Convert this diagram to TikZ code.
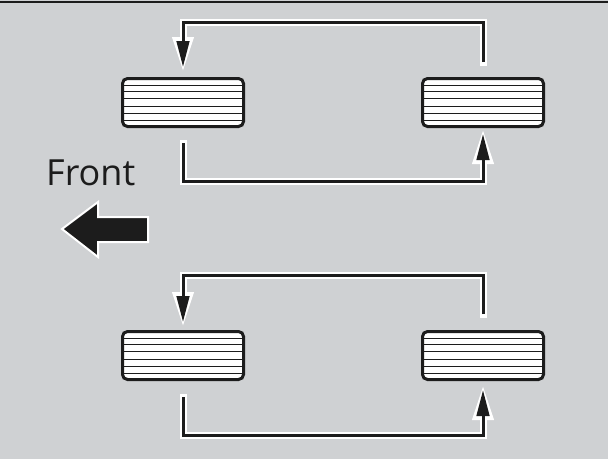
\documentclass[tikz,border=0pt]{standalone}
\usepackage{xcolor}
\usepackage{fontspec}
\setmainfont{Open Sans}
\usepackage{pgf,tikz}
\usetikzlibrary{arrows.meta,positioning,calc}
\definecolor{bggray}{RGB}{207,209,211}
\definecolor{ink}{RGB}{28,28,28}
\tikzset{
    tire/.style={draw=ink, fill=white, line width=3pt, rounded corners=5pt,
        minimum width=121pt, minimum height=48pt, inner sep=0pt,
        path picture={
            \foreach \s in {-18,-11,-4,4,11,17}
                \draw[ink, line width=1pt] ([yshift=\s pt]path picture bounding box.west) -- ([yshift=\s pt]path picture bounding box.east);
        }},
    rot/.style={draw=ink, line width=3pt, line cap=butt, shorten >=5pt,
        -{Triangle[length=26pt,width=12.5pt]},
        preaction={draw=white, line width=7pt, line cap=rect, shorten >=0pt,
            -{Triangle[length=35pt,width=20pt]}}}
}

\begin{document}
\begin{tikzpicture}[x=1pt,y=-1pt]
    \useasboundingbox (0,0) rectangle (608,459);
    \fill[bggray] (0,0) rectangle (608,459);
    \draw[ink, line width=1.5pt] (0,1.75) -- (608,1.75);
    \node[tire] (A) at (183,102.5) {};
    \node[tire] (B) at (483,102.5) {};
    \node[tire] (C) at (183,355.5) {};
    \node[tire] (D) at (483,355.5) {};
    \path [rot] ([yshift=15pt]B.north) -- ++(0,-39.5) -| ([yshift=5pt]A.north);
    \path [rot] ([yshift=-15pt]A.south) -- ++(0,38.5) -| ([yshift=-1pt]B.south);
    \path [rot] ([yshift=16pt]D.north) -- ++(0,-38.5) -| ([yshift=3pt]C.north);
    \path [rot] ([yshift=-16pt]C.south) -- ++(0,38.5) -| ([yshift=-4pt]D.south);
    \node[anchor=base west, inner sep=0pt, text=ink, font=\fontsize{36}{40}\selectfont] (front) at (46,185) {Front};
    \filldraw[fill=ink, draw=white, line width=2pt] (62,229) -- (98,202) -- (98,217) -- (148,217) -- (148,242) -- (98,242) -- (98,257) -- cycle;
\end{tikzpicture}
\end{document}
